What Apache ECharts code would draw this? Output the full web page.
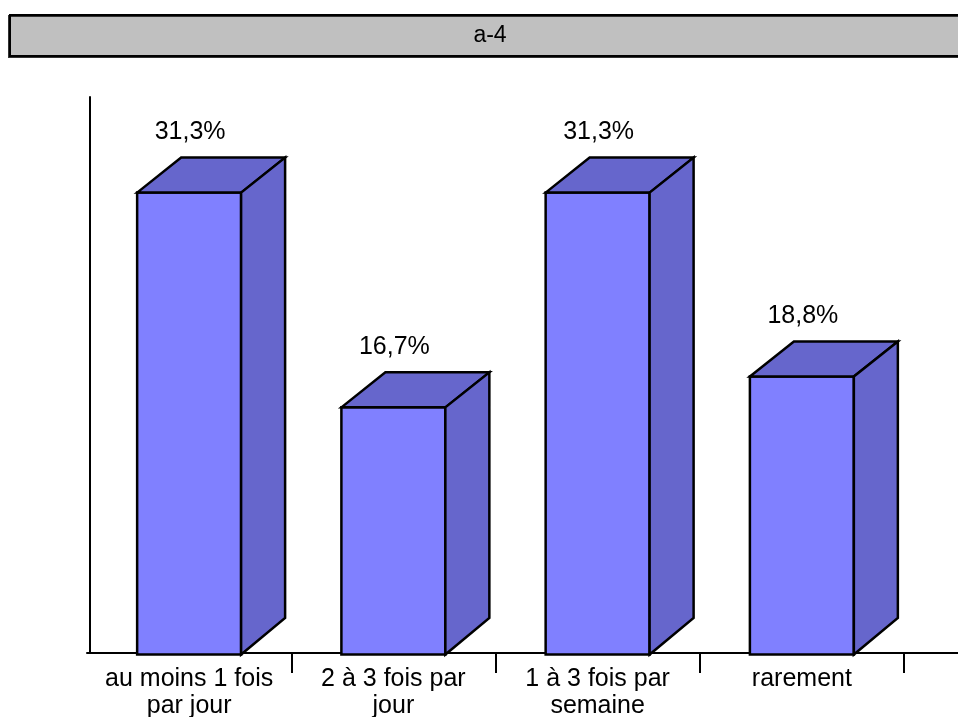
<!DOCTYPE html>
<html>
<head>
<meta charset="utf-8">
<script src="https://cdn.jsdelivr.net/npm/echarts@6/dist/echarts.min.js"></script>
<style>
  html, body { margin: 0; padding: 0; background: #fff; overflow: hidden; }
  #main { width: 958px; height: 717px; }
</style>
</head>
<body>
<div id="main"></div>
<script>
const titleText = 'a-4';
const categories = ['au moins 1 fois\npar jour', '2 à 3 fois par\njour', '1 à 3 fois par\nsemaine', 'rarement'];
const values = [31.3, 16.7, 31.3, 18.8];

const FONT = '"Liberation Sans", Arial, sans-serif';
const FRONT = '#8080ff';
const SHADE = '#6666cc';
const DEPTH_X = 44;
const DEPTH_Y = 35;
const GRID = { left: 87, width: 817, top: 97, height: 556, outerBoundsMode: 'none' };

function fmt(v) {
  return v.toFixed(1).replace('.', ',') + '%';
}

const chart = echarts.init(document.getElementById('main'));

function renderBox(params, api) {
  const idx = api.value(0);
  const val = api.value(1);
  const top = api.coord([idx, val]);
  const base = api.coord([idx, 0]);
  const band = api.size([1, 0])[0];
  const w = band * 0.509;
  const x0 = top[0] - w / 2;
  const x1 = x0 + w;
  const yT = top[1];
  const yB = base[1];
  const line = { stroke: '#000', lineWidth: 2.5, lineJoin: 'miter' };
  return {
    type: 'group',
    children: [
      {
        type: 'rect',
        shape: { x: x0, y: yT, width: w, height: yB + 1.5 - yT },
        style: Object.assign({ fill: FRONT }, line)
      },
      {
        type: 'polygon',
        shape: { points: [[x0, yT], [x0 + DEPTH_X, yT - DEPTH_Y], [x1 + DEPTH_X, yT - DEPTH_Y], [x1, yT]] },
        style: Object.assign({ fill: SHADE }, line)
      },
      {
        type: 'polygon',
        shape: { points: [[x1, yT], [x1 + DEPTH_X, yT - DEPTH_Y], [x1 + DEPTH_X, yB - DEPTH_Y], [x1, yB + 1.5]] },
        style: Object.assign({ fill: SHADE }, line)
      },
      {
        type: 'text',
        style: {
          x: top[0] + 1,
          y: yT - DEPTH_Y - 25,
          text: fmt(val),
          fill: '#000',
          font: '25px ' + FONT,
          align: 'center',
          verticalAlign: 'middle'
        }
      }
    ]
  };
}

const option = {
  animation: false,
  backgroundColor: '#fff',
  grid: GRID,
  xAxis: {
    type: 'category',
    data: categories,
    boundaryGap: true,
    axisLine: { lineStyle: { color: '#000', width: 2 } },
    axisTick: {
      show: true,
      length: 20,
      interval: function (index) { return index !== 0; },
      lineStyle: { color: '#000', width: 2 }
    },
    axisLabel: {
      interval: 0,
      color: '#000',
      fontFamily: 'Liberation Sans',
      fontSize: 25,
      lineHeight: 27,
      margin: 13
    }
  },
  yAxis: {
    type: 'value',
    min: 0,
    max: 37.8,
    offset: -3,
    axisLine: { show: true, lineStyle: { color: '#000', width: 2 } },
    axisTick: { show: false },
    axisLabel: { show: false },
    splitLine: { show: false }
  },
  graphic: [
    {
      type: 'rect',
      shape: { x: 10, y: 15, width: 960, height: 41 },
      style: {
        fill: '#c0c0c0', stroke: '#000', lineWidth: 2,
        shadowColor: '#333', shadowBlur: 0, shadowOffsetX: -1, shadowOffsetY: 1
      }
    },
    {
      type: 'text',
      style: {
        x: 490, y: 35.5, text: titleText, fill: '#000',
        font: '23px ' + FONT, align: 'center', verticalAlign: 'middle'
      }
    },
    {
      // the category axis line runs on to the right edge
      type: 'line',
      shape: {
        x1: GRID.left + GRID.width, y1: GRID.top + GRID.height,
        x2: 958, y2: GRID.top + GRID.height
      },
      style: { stroke: '#000', lineWidth: 2 }
    }
  ],
  series: [
    {
      type: 'custom',
      clip: false,
      renderItem: renderBox,
      encode: { x: 0, y: 1 },
      data: values.map(function (v, i) { return [i, v]; })
    }
  ]
};

chart.setOption(option);
</script>
</body>
</html>
